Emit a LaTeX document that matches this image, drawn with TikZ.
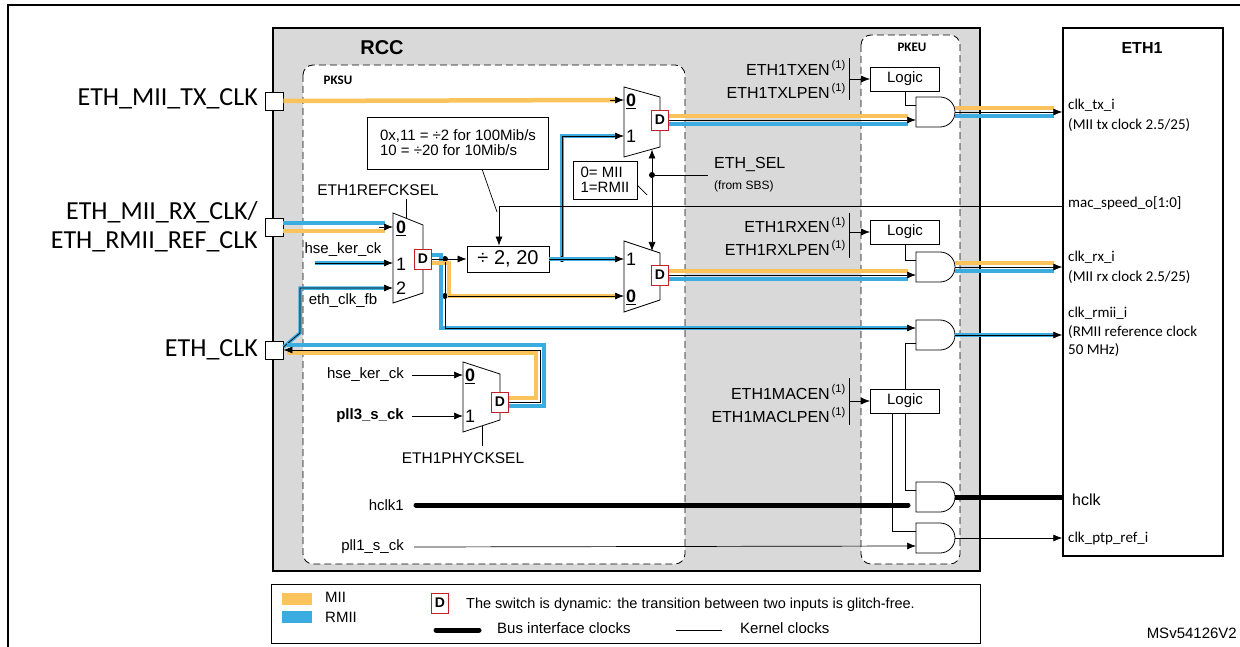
\documentclass[tikz,border=0pt]{standalone}
\usepackage{fontspec}
\setmainfont{Liberation Sans}
\newfontfamily\calib{Carlito}
\usetikzlibrary{arrows.meta,calc,backgrounds,positioning}

\definecolor{miiyellow}{RGB}{251,195,92}
\definecolor{rmiiblue}{RGB}{58,172,224}
\definecolor{rccgray}{RGB}{217,217,217}
\definecolor{dred}{RGB}{200,30,40}

\newcommand{\fs}[1]{\fontsize{#1}{#1}\selectfont}

\tikzset{
  mii/.style={draw=miiyellow, line width=4.5pt},
  rmii/.style={draw=rmiiblue, line width=4.5pt},
  sig/.style={draw=black, line width=0.7pt},
  arr/.style={sig, -{Latex[length=9pt,width=7pt]}},
  bus/.style={draw=black, line width=5pt},
  dbox/.style={draw=dred, fill=white, line width=0.9pt, minimum width=17pt, minimum height=20pt, font=\bfseries\fs{14}},
  pin/.style={draw, fill=white, line width=0.9pt, minimum size=18pt},
  logic/.style={draw, fill=white, line width=0.8pt, minimum width=69pt, minimum height=24pt, font=\fs{15}},
  dot/.style={circle, fill, minimum size=6pt},
  muxnum/.style={anchor=west, font=\fs{18}},
  eth/.style={anchor=west, font=\calib\fs{15}},
  en/.style={anchor=east, font=\fs{16}},
  unit/.style={dash pattern=on 7pt off 4pt, fill=white, rounded corners=10pt, line width=0.8pt},
}

% and gate: name, x, top
\newcommand{\andgate}[3]{%
  \draw[fill=white, line width=0.8pt] (#2,#3) -- (#2+24,#3) arc[start angle=-90, end angle=90, radius=15] -- (#2,#3+30) -- cycle;
  \coordinate (#1-in1) at (#2,#3+8);
  \coordinate (#1-in2) at (#2,#3+23);
  \coordinate (#1-out) at (#2+39,#3+15);
}

\begin{document}
\begin{tikzpicture}[x=1pt,y=-1pt, every node/.style={inner sep=0pt, font=\fs{15}}]
  \useasboundingbox (0,0) rectangle (1240,647);

  % frames
  \draw[line width=1.5pt] (8,647) -- (8,5) -- (1240,5);
  \draw[fill=rccgray, line width=2.5pt] (273,28) rectangle (980,571);
  \draw[unit] (303,65) rectangle (685,564);
  \draw[unit] (861,35) rectangle (960,564);
  \node[draw, line width=1.5pt, fill=white, minimum width=160pt, minimum height=528pt] (eth) at (1143,292) {};
  \node[font=\bfseries\fs{20}] (rcc) at (382,48) {RCC};
  \node[font=\calib\bfseries\fs{13}] (pksu) at (338,80) {PKSU};
  \node[font=\calib\bfseries\fs{13}] (pkeu) at (912,47) {PKEU};
  \node[font=\bfseries\fs{16}] (ethname) at (1142,48) {ETH1};

  % pins
  \node[pin] (ptx) at (274,101) {};
  \node[pin] (prx) at (274,227) {};
  \node[pin] (pclk) at (274,350) {};
  \node[anchor=east, font=\calib\fs{26}] at (258,99) {ETH\_MII\_TX\_CLK};
  \node[anchor=east, font=\calib\fontsize{26}{29}\selectfont, align=right] at (258,227) {ETH\_MII\_RX\_CLK/\\ETH\_RMII\_REF\_CLK};
  \node[anchor=east, font=\calib\fs{26}] at (258,350) {ETH\_CLK};

  % muxes
  \draw[fill=white, line width=0.8pt] (624,87) -- (660,97) -- (660,147) -- (624,157) -- cycle;
  \draw[fill=white, line width=0.8pt] (624,241) -- (660,253) -- (660,300) -- (624,312) -- cycle;
  \draw[fill=white, line width=0.8pt] (393,213) -- (423,225) -- (423,293) -- (393,303) -- cycle;
  \draw[fill=white, line width=0.8pt] (463,362) -- (500,374) -- (500,420) -- (463,432) -- cycle;
  \coordinate (mtx-0) at (624,100);  \coordinate (mtx-1) at (624,136);
  \coordinate (mrx-1) at (624,259);  \coordinate (mrx-0) at (624,296);
  \coordinate (mref-0) at (393,227); \coordinate (mref-1) at (393,263); \coordinate (mref-2) at (393,288);
  \coordinate (mphy-0) at (463,375); \coordinate (mphy-1) at (463,416);
  \coordinate (mtx-sel) at (652,149.5); \coordinate (mrx-sel) at (652,251);
  \node[muxnum] at (626,101) {\underline{\textbf{0}}};
  \node[muxnum] at (626,136) {1};
  \node[muxnum] at (626,259) {1};
  \node[muxnum] at (626,297) {\underline{\textbf{0}}};
  \node[muxnum] at (396,228) {\underline{\textbf{0}}};
  \node[muxnum] at (396,264) {1};
  \node[muxnum] at (396,288) {2};
  \node[muxnum] at (465,376) {\underline{\textbf{0}}};
  \node[muxnum] at (465,416) {1};

  % gates
  \andgate{txg}{916}{97}
  \andgate{rxg}{916}{252}
  \andgate{rmg}{916}{320}
  \andgate{hcg}{916}{482}
  \andgate{ptg}{916}{523}

  % boxes
  \node[draw, line width=0.8pt, fill=white, minimum width=82pt, minimum height=26pt, font=\fs{20}] (div) at (508,259) {÷ 2, 20};
  \node[draw, line width=0.8pt, fill=white, minimum width=181pt, minimum height=52pt, align=left, font=\fs{15}] (note) at (458,143) {0x,11 = ÷2 for 100Mib/s\\10 = ÷20 for 10Mib/s};
  \node[draw, line width=0.8pt, fill=white, minimum width=64pt, minimum height=38pt, align=left, font=\fs{15}] (selnote) at (605,180) {0= MII\\1=RMII};
  \draw[sig] (482,169) -- (497,212);
  \draw[sig] (637,185) -- (647,195);

  % MII / RMII paths
  \draw[mii] (ptx.east) -- ($(mtx-0)+(-8,0)$);
  \draw[arr] ($(mtx-0)+(-14,0)$) -- (mtx-0);
  \draw[rmii, transform canvas={yshift=4pt}] (prx.east) -- ($(mref-0)+(-8,0)$);
  \draw[mii, transform canvas={yshift=-4pt}] (prx.east) -- ($(mref-0)+(-8,0)$);
  \draw[arr] ($(mref-0)+(-14,0)$) -- (mref-0);
  \coordinate (hsein) at (315,263);
  \draw[rmii, line width=3.5pt] (hsein) -- ($(mref-1)+(-8,0)$);
  \draw[arr] (hsein) -- (mref-1);
  \draw[rmii, line width=3.5pt] ([yshift=3pt]pclk.east) -- (300,333) -- (300,288) -- ($(mref-2)+(-8,0)$);
  \draw[arr] ([yshift=3pt]pclk.east) -- (300,333) -- (300,288) -- (mref-2);

  \node[dot] (dot1) at (445,259) {};
  \node[dot] (dot2) at (562,259) {};
  \node[dot] (dot3) at (445,296) {};
  \node[dot] (jsel) at (652,175) {};
  \draw[rmii] (432,255) -- (441,255) -- (441,328) -- ($(rmg-in1)+(-8,0)$);
  \draw[mii] (432,263) -- (449,263) -- (449,296) -- ($(mrx-0)+(-8,0)$);
  \draw[rmii] (div.east) -- ($(mrx-1)+(-8,0)$);
  \draw[rmii] (dot2) |- ($(mtx-1)+(-8,0)$);

  \draw[rmii] (508,406) -- (544,406) -- (544,345) -- (287,345);
  \draw[mii] (508,398) -- (536,398) -- (536,353) -- (287,353);
  \coordinate (ck) at (540,350);

  \node[dbox] (dtx) at (660,120) {D};
  \node[dbox] (drx) at (660,275) {D};
  \node[dbox] (dref) at (423,259) {D};
  \node[dbox] (dphy) at (500,402) {D};

  \draw[arr] (dref.east) -- (div.west);
  \draw[sig] (dot1) -- (dot3);
  \draw[arr] (dot3) -- (mrx-0);
  \draw[arr] (dot3) |- (rmg-in1);
  \draw[arr] (div.east) -- (mrx-1);
  \draw[arr] (dot2) |- (mtx-1);
  \draw[arr] (dphy.east) -- (dphy.east -| ck) -- (ck) -- (pclk.east);

  \foreach \d/\g in {dtx/txg, drx/rxg}{
    \draw[mii, transform canvas={yshift=4pt}] (\d.east) -- ($(\g-in2)+(-8,0)$);
    \draw[rmii, transform canvas={yshift=-4pt}] (\d.east) -- ($(\g-in2)+(-8,0)$);
    \draw[arr] (\d.east) -- (\g-in2);
    \draw[mii, transform canvas={yshift=4pt}] (\g-out) -- ($(\g-out -| eth.west)+(-8,0)$);
    \draw[rmii, transform canvas={yshift=-4pt}] (\g-out) -- ($(\g-out -| eth.west)+(-8,0)$);
    \draw[arr] (\g-out) -- (\g-out -| eth.west);
  }
  \draw[rmii, line width=3.5pt] (rmg-out) -- ($(rmg-out -| eth.west)+(-8,0)$);
  \draw[arr] (rmg-out) -- (rmg-out -| eth.west);

  % select lines
  \node[font=\fs{15.5}] (refsel) at (378,190) {ETH1REFCKSEL};
  \draw[sig] (406,199) -- (406,218);
  \node[font=\fs{15.5}] (physel) at (463,458) {ETH1PHYCKSEL};
  \draw[sig] (482,446) -- (482,426);
  \draw[arr] (jsel) -- (mtx-sel);
  \draw[arr] (jsel) -- (mrx-sel);
  \draw[sig] (jsel) -- (708,175);
  \node[anchor=west, font=\fs{16}] (ethsel) at (714,165) {ETH\_SEL};
  \node[anchor=west, font=\fs{12}] at (714,186) {(from SBS)};
  \coordinate (ms) at (499,206);
  \draw[arr] (eth.west |- ms) -- (ms) -- (ms |- div.north);

  % kernel and bus clocks
  \node[anchor=south] at (343,257) {hse\_ker\_ck};
  \node[anchor=north] at (343,293) {eth\_clk\_fb};
  \node[anchor=east] (hse2) at (404,375) {hse\_ker\_ck};
  \node[anchor=east, font=\bfseries\fs{15}] (pll3) at (404,416) {pll3\_s\_ck};
  \node[anchor=east] (hclk1) at (404,505) {hclk1};
  \node[anchor=east] (pll1) at (404,547) {pll1\_s\_ck};
  \draw[arr] ([xshift=8pt]hse2.east) -- (mphy-0);
  \draw[arr] ([xshift=8pt]pll3.east) -- (mphy-1);
  \draw[bus, line cap=round] ([xshift=12pt]hclk1.east) -- ($(hcg-in2)+(-8,0)$);
  \draw[arr] ([xshift=10pt]pll1.east) -- (ptg-in2);
  \draw[bus] (hcg-out) -- (hcg-out -| eth.west);
  \draw[arr] (ptg-out) -- (ptg-out -| eth.west);

  % enables and logic
  \node[logic] (lgtx) at (905,79) {Logic};
  \node[logic] (lgrx) at (905,232) {Logic};
  \node[logic] (lgmac) at (905,401) {Logic};
  \coordinate (barx) at (849,0);
  \node[en] at (846,68) {ETH1TXEN\textsuperscript{\,(1)}};
  \node[en] at (846,91) {ETH1TXLPEN\textsuperscript{\,(1)}};
  \node[en] at (846,225) {ETH1RXEN\textsuperscript{\,(1)}};
  \node[en] at (846,248) {ETH1RXLPEN\textsuperscript{\,(1)}};
  \node[en] at (846,392) {ETH1MACEN\textsuperscript{\,(1)}};
  \node[en] at (846,415) {ETH1MACLPEN\textsuperscript{\,(1)}};
  \draw[sig] (849,58) -- (849,100);
  \draw[sig] (849,213) -- (849,258);
  \draw[sig] (849,378) -- (849,425);
  \draw[arr] (lgtx.west -| barx) -- (lgtx.west);
  \draw[arr] (lgrx.west -| barx) -- (lgrx.west);
  \draw[arr] (lgmac.west -| barx) -- (lgmac.west);
  \draw[sig] (lgtx.south) |- (txg-in1);
  \draw[sig] (lgrx.south) |- (rxg-in1);
  \draw[sig] (lgmac.north) |- (rmg-in2);
  \draw[sig] (lgmac.south) |- (hcg-in1);
  \draw[sig] ([xshift=-13pt]lgmac.south) |- (ptg-in1);

  % ETH1 signals
  \node[eth] at (1068,105) {clk\_tx\_i};
  \node[eth] at (1068,125) {(MII tx clock 2.5/25)};
  \node[eth] at (1068,203) {mac\_speed\_o[1:0]};
  \node[eth] at (1068,257) {clk\_rx\_i};
  \node[eth] at (1068,277) {(MII rx clock 2.5/25)};
  \node[eth] at (1068,313) {clk\_rmii\_i};
  \node[eth] at (1068,332) {(RMII reference clock};
  \node[eth] at (1068,350) {50 MHz)};
  \node[anchor=west, font=\fs{16}] at (1072,500) {hclk};
  \node[eth] at (1068,538) {clk\_ptp\_ref\_i};

  % legend
  \draw[line width=0.8pt] (271,584) rectangle (980,643);
  \fill[miiyellow] (282,593) rectangle (312,605);
  \fill[rmiiblue] (282,611) rectangle (312,623);
  \node[anchor=west] at (325,597) {MII};
  \node[anchor=west] at (325,617) {RMII};
  \node[dbox] (dleg) at (440,603) {D};
  \node[anchor=west, font=\fs{14.5}] at (466,605) {The switch is dynamic: the transition between two inputs is glitch-free.};
  \draw[bus, line cap=round] (436,630) -- (479,630);
  \node[anchor=west] at (497,628) {Bus interface clocks};
  \draw[sig] (676,630) -- (722,630);
  \node[anchor=west] at (740,628) {Kernel clocks};
  \node[anchor=east] at (1237,633) {MSv54126V2};
\end{tikzpicture}
\end{document}
